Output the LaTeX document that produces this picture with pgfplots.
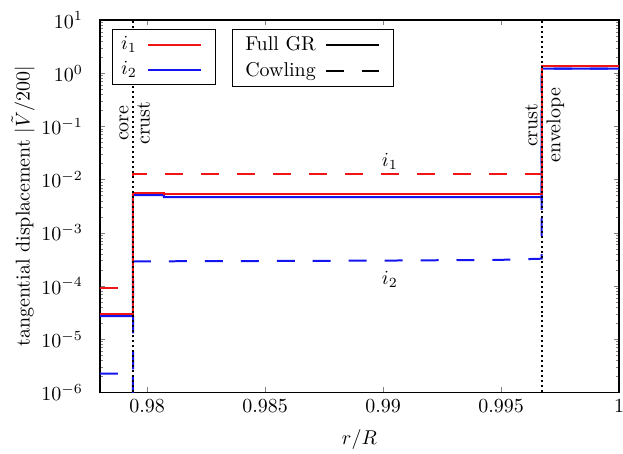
\documentclass[border=0pt]{standalone}
\usepackage{pgfplots}
\pgfplotsset{compat=1.18}
\definecolor{lred}{RGB}{240,20,20}
\definecolor{lblue}{RGB}{20,20,240}
\begin{document}
\begin{tikzpicture}
\begin{axis}[
  width=260pt, height=186.5pt, scale only axis,
  xmin=0.978, xmax=1, ymode=log, ymin=1e-6, ymax=10,
  xtick={0.98,0.985,0.99,0.995,1},
  xticklabels={0.98,0.985,0.99,0.995,1},
  ytick={1e-6,1e-5,1e-4,1e-3,1e-2,1e-1,1,10},
  major tick length=2.5pt, minor tick length=1.5pt,
  axis line style={line width=0.8pt},
  yticklabel style={xshift=-5pt},
  xlabel={$r/R$}, ylabel={tangential displacement $|\tilde V/200|$},
  every axis y label/.style={at={(axis description cs:-0.148,0.5)}, rotate=90, anchor=center},
  every axis x label/.style={at={(axis description cs:0.5,-0.126)}, anchor=center},
  legend image code/.code={\draw[mark repeat=2,mark phase=2,#1] plot coordinates {(0pt,0pt) (13.25pt,0pt) (26.5pt,0pt)}; \path (31pt,0pt) (-3pt,0pt);},
  legend plot pos=right,
  legend cell align=left,
  legend style={at={(0.0225,0.975)}, anchor=north west, draw=black, line width=0.6pt, inner xsep=2.5pt, inner ysep=1.3pt, row sep=0.5pt},
]
\addlegendimage{lred, line width=1pt}
\addlegendentry{$i_1$}
\addlegendimage{lblue, line width=1pt}
\addlegendentry{$i_2$}
% Cowling (dashed)
\addplot[lred, line width=1pt, dash pattern=on 9pt off 9pt, forget plot] coordinates {
 (0.978,8.97e-5) (0.97940,8.97e-5) (0.97940,1.26e-2) (0.99672,1.26e-2) (0.99672,1.37) (1.0,1.37)};
\addplot[lblue, line width=1pt, dash pattern=on 9pt off 9pt, forget plot] coordinates {
 (0.978,2.24e-6) (0.97940,2.24e-6) (0.97940,1e-8) (0.97941,2.9e-4) (0.985,2.95e-4) (0.99,3.0e-4) (0.995,3.1e-4) (0.99665,3.25e-4) (0.99672,3.25e-4) (0.99672,1.22) (1.0,1.22)};
% Full GR (solid)
\addplot[lblue, line width=1pt, forget plot] coordinates {
 (0.978,2.7e-5) (0.97940,2.7e-5) (0.97940,5.1e-3) (0.98071,5.1e-3) (0.98071,4.7e-3) (0.99672,4.7e-3) (0.99672,2.7e-3) (0.99673,1.22) (1.0,1.22)};
\addplot[lred, line width=1pt, forget plot] coordinates {
 (0.978,3.0e-5) (0.97940,3.0e-5) (0.97940,5.7e-3) (0.98071,5.7e-3) (0.98071,5.37e-3) (0.99672,5.37e-3) (0.99672,1.37) (1.0,1.37)};
% boundaries
\addplot[black, line width=0.9pt, dash pattern=on 1pt off 1.5pt, forget plot] coordinates {(0.97940,1e-6) (0.97940,10)};
\addplot[black, line width=0.9pt, dash pattern=on 1pt off 1.5pt, forget plot] coordinates {(0.99674,1e-6) (0.99674,10)};
\node[rotate=90, anchor=south, inner sep=2pt] at (axis cs:0.97940,0.115) {core};
\node[rotate=90, anchor=north, inner sep=2pt] at (axis cs:0.97940,0.115) {crust};
\node[rotate=90, anchor=south, inner sep=2pt] at (axis cs:0.99674,0.105) {crust};
\node[rotate=90, anchor=north, inner sep=2pt] at (axis cs:0.99674,0.105) {envelope};
\node at (axis cs:0.99029,0.0217) {$i_1$};
\node at (axis cs:0.99029,1.32e-4) {$i_2$};
\end{axis}
\begin{axis}[
  width=260pt, height=186.5pt, scale only axis,
  xmin=0.978, xmax=1, ymode=log, ymin=1e-6, ymax=10,
  hide axis,
  legend image code/.code={\draw[mark repeat=2,mark phase=2,#1] plot coordinates {(0pt,0pt) (13.25pt,0pt) (26.5pt,0pt)}; \path (29pt,0pt) (-2.5pt,0pt);},
  legend plot pos=right,
  legend cell align=left,
  legend style={at={(0.254,0.975)}, anchor=north west, draw=black, line width=0.6pt, inner xsep=4.5pt, inner ysep=1.3pt, row sep=0.5pt},
]
\addlegendimage{black, line width=1pt}
\addlegendentry{Full GR}
\addlegendimage{black, line width=1pt, dash pattern=on 9pt off 9pt}
\addlegendentry{Cowling}
\end{axis}
\pgfresetboundingbox
\path[use as bounding box] ([xshift=-50pt,yshift=-30.5pt]current axis.south west) rectangle ([xshift=2pt,yshift=10pt]current axis.north east);
\end{tikzpicture}
\end{document}
